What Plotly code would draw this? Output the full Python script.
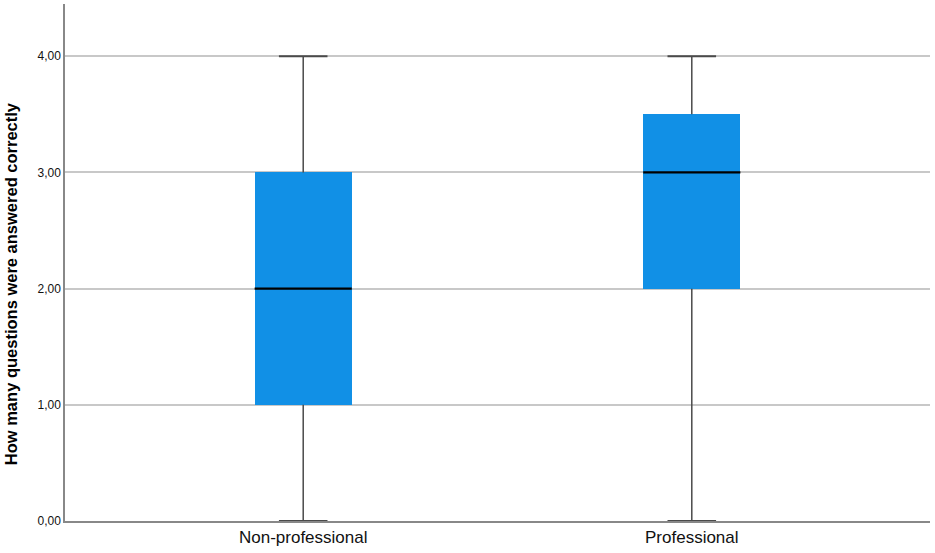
import plotly.graph_objects as go

categories = ["Non-professional", "Professional"]
q_min = [0.0, 0.0]
q1 = [1.0, 2.0]
median = [2.0, 3.0]
q3 = [3.0, 3.5]
q_max = [4.0, 4.0]
y_ticks = [0, 1, 2, 3, 4]
y_tick_labels = ["0,00", "1,00", "2,00", "3,00", "4,00"]
y_title = "How many questions were answered correctly"

box_w = 0.25
cap_w = box_w / 2
pos = list(range(len(categories)))

fig = go.Figure()

# whiskers
for i in pos:
    fig.add_trace(go.Scatter(
        x=[i, i, None, i, i], y=[q_min[i], q1[i], None, q3[i], q_max[i]],
        mode="lines", line=dict(color="#4a4a4a", width=1.5),
        showlegend=False, hoverinfo="skip"))
    fig.add_trace(go.Scatter(
        x=[i - cap_w / 2, i + cap_w / 2, None, i - cap_w / 2, i + cap_w / 2],
        y=[q_min[i], q_min[i], None, q_max[i], q_max[i]],
        mode="lines", line=dict(color="#4a4a4a", width=2),
        showlegend=False, hoverinfo="skip"))

# boxes
fig.add_trace(go.Bar(
    x=pos, base=q1, y=[b - a for a, b in zip(q1, q3)], width=box_w,
    marker=dict(color="#1190E6", line=dict(width=0)),
    showlegend=False, hoverinfo="skip"))

# medians
for i in pos:
    fig.add_trace(go.Scatter(
        x=[i - box_w / 2, i + box_w / 2], y=[median[i], median[i]],
        mode="lines", line=dict(color="#000000", width=2.2),
        showlegend=False, hoverinfo="skip"))

fig.update_layout(
    width=935, height=553,
    margin=dict(l=65, r=5, t=4, b=32),
    paper_bgcolor="white", plot_bgcolor="white",
    font=dict(family="Arial, Liberation Sans, sans-serif", color="#111111"),
    bargap=0,
)
fig.update_xaxes(
    range=[-0.613, 1.613], tickvals=pos, ticktext=categories,
    tickfont=dict(size=17), showgrid=False, zeroline=False,
    showline=True, linecolor="#888888", linewidth=1.5, ticks="",
    automargin=False,
)
fig.update_yaxes(
    range=[0, 4.45], tickvals=y_ticks, ticktext=y_tick_labels,
    tickfont=dict(size=12), showgrid=True, gridcolor="#c8c8c8", gridwidth=1.5,
    zeroline=False, showline=True, linecolor="#888888", linewidth=1.5, ticks="",
    automargin=False,
)
fig.add_annotation(
    text="<b>" + y_title + "</b>", textangle=-90,
    xref="paper", yref="paper", x=0, y=0.458, xshift=-54,
    xanchor="center", yanchor="middle", showarrow=False,
    font=dict(size=16.5, color="#000000"),
)

fig.write_html("out.html", post_script="document.body.style.margin='0';",
               config={"displayModeBar": False})
